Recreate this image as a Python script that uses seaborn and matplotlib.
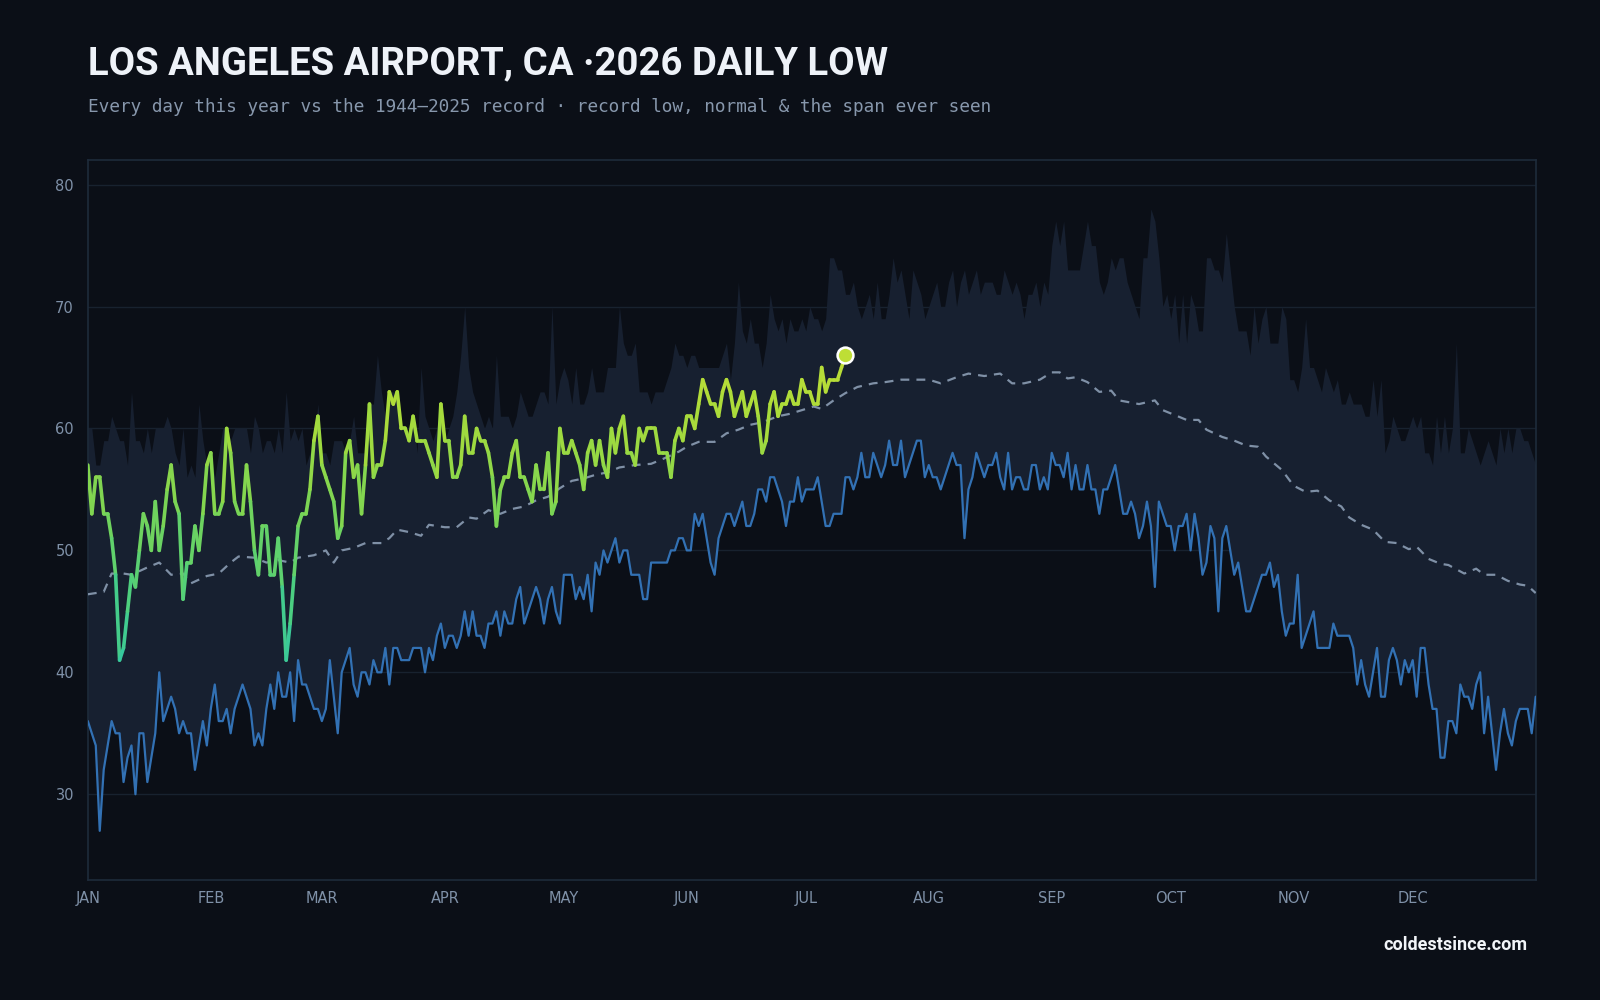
import numpy as np
import pandas as pd
import matplotlib
matplotlib.use("Agg")
import matplotlib.pyplot as plt
from matplotlib.collections import LineCollection
from matplotlib.colors import LinearSegmentedColormap, Normalize
import seaborn as sns

# Record low of the daily low, 1944-2025 (one value per day of year)
record_low = [
    36, 35, 34, 27, 32, 34, 36, 35, 35, 31, 33, 34, 30, 35, 35, 31, 33, 35, 40, 36,
    37, 38, 37, 35, 36, 35, 35, 32, 34, 36, 34, 37, 39, 36, 36, 37, 35, 37, 38, 39,
    38, 37, 34, 35, 34, 37, 39, 37, 40, 38, 38, 40, 36, 41, 39, 39, 38, 37, 37, 36,
    37, 41, 38, 35, 40, 41, 42, 39, 38, 40, 40, 39, 41, 40, 40, 42, 39, 42, 42, 41,
    41, 41, 42, 42, 42, 40, 42, 41, 43, 44, 42, 43, 43, 42, 43, 45, 43, 45, 43, 43,
    42, 44, 44, 45, 43, 45, 44, 44, 46, 47, 44, 45, 46, 47, 46, 44, 46, 47, 45, 44,
    48, 48, 48, 46, 47, 46, 48, 45, 49, 48, 50, 49, 50, 51, 49, 50, 50, 48, 48, 48,
    46, 46, 49, 49, 49, 49, 49, 50, 50, 51, 51, 50, 50, 53, 52, 53, 51, 49, 48, 51,
    52, 53, 53, 52, 53, 54, 52, 52, 53, 55, 55, 54, 56, 56, 55, 54, 52, 54, 54, 56,
    54, 55, 55, 55, 56, 54, 52, 52, 53, 53, 53, 56, 56, 55, 56, 58, 56, 56, 58, 57,
    56, 57, 59, 57, 57, 59, 56, 57, 58, 59, 59, 56, 57, 56, 56, 55, 56, 57, 58, 57,
    57, 51, 55, 56, 58, 57, 56, 57, 57, 58, 56, 55, 58, 55, 56, 56, 55, 55, 57, 57,
    55, 56, 55, 58, 57, 57, 56, 58, 55, 57, 55, 55, 57, 55, 55, 53, 55, 55, 56, 57,
    55, 53, 53, 54, 53, 51, 52, 54, 52, 47, 54, 53, 52, 52, 50, 52, 52, 53, 50, 53,
    51, 48, 49, 52, 51, 45, 51, 52, 50, 48, 49, 47, 45, 45, 46, 47, 48, 48, 49, 47,
    48, 45, 43, 44, 44, 48, 42, 43, 44, 45, 42, 42, 42, 42, 44, 43, 43, 43, 43, 42,
    39, 41, 39, 38, 40, 42, 38, 38, 41, 42, 41, 39, 41, 40, 41, 38, 42, 42, 39, 37,
    37, 33, 33, 36, 36, 35, 39, 38, 38, 37, 39, 40, 35, 38, 35, 32, 35, 37, 35, 34,
    36, 37, 37, 37, 35, 38,
]

# Record high of the daily low (top of the span ever seen)
record_high = [
    60, 60, 57, 57, 59, 59, 61, 60, 59, 59, 57, 63, 59, 59, 58, 60, 58, 60, 60, 60,
    61, 60, 58, 57, 60, 56, 57, 56, 62, 59, 57, 58, 56, 58, 60, 60, 59, 60, 60, 60,
    60, 58, 61, 60, 58, 59, 59, 58, 60, 58, 63, 59, 60, 59, 60, 57, 58, 59, 62, 58,
    58, 57, 59, 59, 59, 58, 59, 61, 58, 58, 58, 62, 62, 66, 63, 61, 63, 63, 63, 60,
    60, 59, 61, 58, 65, 61, 60, 59, 60, 62, 59, 60, 61, 63, 66, 70, 65, 63, 62, 61,
    60, 61, 60, 66, 61, 61, 61, 60, 61, 63, 62, 61, 61, 62, 63, 63, 62, 70, 62, 64,
    65, 64, 62, 65, 62, 62, 63, 65, 63, 63, 63, 65, 65, 65, 70, 67, 66, 66, 67, 63,
    63, 63, 62, 63, 63, 63, 64, 65, 67, 66, 66, 65, 66, 66, 65, 65, 65, 65, 65, 65,
    66, 67, 64, 67, 72, 68, 67, 69, 67, 67, 65, 67, 71, 69, 68, 69, 67, 69, 68, 68,
    69, 68, 70, 69, 69, 68, 69, 74, 74, 73, 73, 71, 71, 72, 70, 69, 70, 71, 69, 72,
    69, 69, 71, 74, 72, 73, 71, 69, 73, 72, 71, 69, 70, 71, 72, 70, 70, 72, 73, 70,
    72, 73, 71, 72, 73, 71, 72, 72, 72, 71, 71, 73, 72, 71, 72, 71, 69, 71, 71, 72,
    70, 72, 71, 75, 77, 75, 77, 73, 73, 73, 73, 75, 77, 75, 75, 72, 71, 72, 74, 73,
    74, 74, 72, 71, 70, 69, 74, 74, 78, 77, 74, 70, 71, 69, 71, 67, 71, 67, 71, 70,
    68, 68, 74, 74, 73, 73, 72, 76, 73, 70, 68, 68, 68, 66, 70, 67, 69, 70, 67, 67,
    67, 70, 69, 64, 64, 63, 65, 69, 65, 65, 64, 63, 65, 64, 63, 64, 62, 62, 63, 62,
    62, 62, 61, 61, 64, 61, 64, 58, 59, 61, 60, 59, 59, 60, 61, 60, 61, 58, 58, 57,
    61, 58, 61, 58, 60, 67, 58, 58, 60, 59, 58, 57, 58, 59, 58, 57, 60, 58, 60, 58,
    60, 60, 59, 59, 58, 57,
]

# normal low, read at irregular days
normal_days = [
    0, 4, 6, 9, 11, 15, 18, 21, 24, 26, 30, 33, 36, 38, 42, 45, 48, 51, 53, 57,
    60, 62, 64, 67, 70, 74, 76, 78, 81, 84, 86, 90, 93, 96, 98, 101, 104, 107, 110, 113,
    116, 119, 122, 125, 128, 131, 134, 138, 142, 145, 149, 151, 154, 158, 161, 164, 167, 170, 174, 177,
    180, 183, 185, 188, 191, 194, 198, 201, 205, 209, 212, 215, 219, 222, 226, 230, 233, 236, 240, 243,
    245, 247, 249, 252, 255, 258, 260, 265, 269, 271, 274, 277, 280, 282, 286, 289, 292, 295, 297, 301,
    304, 307, 310, 313, 316, 318, 321, 324, 327, 330, 333, 335, 338, 341, 343, 347, 350, 352, 355, 358,
    361, 363, 365,
]
normal_vals = [
    46.4, 46.6, 48.1, 48.1, 48.0, 48.6, 49.0, 48.0, 48.1, 47.3, 47.9, 48.1, 49.0, 49.5, 49.4, 49.0, 49.2, 49.0, 49.4, 49.6,
    50.0, 49.0, 50.0, 50.2, 50.6, 50.6, 51.0, 51.7, 51.5, 51.2, 52.1, 51.9, 51.9, 52.7, 52.6, 53.3, 53.0, 53.4, 53.6, 54.1,
    54.4, 55.1, 55.7, 55.9, 56.2, 56.4, 56.8, 57.0, 57.1, 57.5, 58.1, 58.5, 58.9, 58.9, 59.6, 59.9, 60.3, 60.5, 61.0, 61.2,
    61.5, 61.8, 61.6, 62.3, 62.9, 63.4, 63.7, 63.8, 64.0, 64.0, 64.0, 63.7, 64.2, 64.5, 64.3, 64.5, 63.7, 63.7, 64.0, 64.6,
    64.6, 64.1, 64.2, 63.8, 63.0, 63.1, 62.3, 62.0, 62.3, 61.5, 61.1, 60.7, 60.7, 59.9, 59.3, 59.0, 58.6, 58.5, 57.7, 56.6,
    55.3, 54.8, 54.9, 54.1, 53.6, 52.7, 52.1, 51.7, 50.7, 50.6, 50.1, 50.3, 49.3, 48.9, 48.8, 48.1, 48.5, 48.0, 48.0, 47.5,
    47.2, 47.1, 46.5,
]

# 2026 daily lows so far (Jan 1 - Jul 11)
low_2026 = [
    57, 53, 56, 56, 53, 53, 51, 48, 41, 42, 45, 48, 47, 50, 53, 52, 50, 54, 50, 52,
    55, 57, 54, 53, 46, 49, 49, 52, 50, 53, 57, 58, 53, 53, 54, 60, 58, 54, 53, 53,
    57, 54, 50, 48, 52, 52, 48, 48, 51, 47, 41, 44, 48, 52, 53, 53, 55, 59, 61, 57,
    56, 55, 54, 51, 52, 58, 59, 56, 57, 53, 57, 62, 56, 57, 57, 59, 63, 62, 63, 60,
    60, 59, 61, 59, 59, 59, 58, 57, 56, 62, 59, 59, 56, 56, 57, 61, 58, 58, 60, 59,
    59, 58, 56, 52, 55, 56, 56, 58, 59, 56, 56, 55, 54, 57, 55, 55, 58, 53, 54, 60,
    58, 58, 59, 58, 57, 55, 58, 59, 57, 59, 57, 56, 60, 58, 60, 61, 58, 58, 57, 60,
    59, 60, 60, 60, 58, 58, 58, 56, 59, 60, 59, 61, 61, 60, 62, 64, 63, 62, 62, 61,
    63, 64, 63, 61, 62, 63, 61, 62, 63, 61, 58, 59, 62, 63, 61, 62, 62, 63, 62, 62,
    64, 63, 63, 62, 62, 65, 63, 64, 64, 64, 65, 66,
]

month_starts = [0, 31, 59, 90, 120, 151, 181, 212, 243, 273, 304, 334]
month_labels = ["JAN", "FEB", "MAR", "APR", "MAY", "JUN",
                "JUL", "AUG", "SEP", "OCT", "NOV", "DEC"]
y_ticks = [30, 40, 50, 60, 70, 80]

BG = "#0b0f17"
FILL = "#172030"
GRID = "#18222f"
SPINE = "#1e2b3b"
TICK = "#7f91a8"
BLUE = "#3271b4"
NORMAL = "#7f90a6"

days = np.arange(len(record_low))
rec = pd.DataFrame({"day": days, "record_low": record_low, "record_high": record_high})
norm_df = pd.DataFrame({"day": normal_days, "normal": normal_vals})
yr = pd.DataFrame({"day": np.arange(len(low_2026)), "low": low_2026})

sns.set_theme(style="dark")
plt.rcParams["font.family"] = ["DejaVu Sans"]

fig = plt.figure(figsize=(16, 10), dpi=100)
fig.patch.set_facecolor(BG)
ax = fig.add_axes([0.0549, 0.1204, 0.9049, 0.7194])
ax.set_facecolor(BG)

# span ever seen
ax.fill_between(rec["day"], rec["record_low"], rec["record_high"],
                color=FILL, lw=0, zorder=1)

# record low
sns.lineplot(data=rec, x="day", y="record_low", color=BLUE, lw=1.6,
             ax=ax, zorder=3)

# normal
sns.lineplot(data=norm_df, x="day", y="normal", color=NORMAL, lw=1.6,
             linestyle=(0, (4, 3.2)), ax=ax, zorder=3)

# 2026 line, coloured by value
cmap = LinearSegmentedColormap.from_list(
    "lows", ["#2fc6a6", "#4fcf7c", "#79d455", "#a6db3c", "#c2de34"])
pts = yr[["day", "low"]].to_numpy(dtype=float)
segs = np.stack([pts[:-1], pts[1:]], axis=1)
lc = LineCollection(segs, cmap=cmap, norm=Normalize(40, 67), lw=2.6,
                    capstyle="round", joinstyle="round", zorder=4)
lc.set_array((pts[:-1, 1] + pts[1:, 1]) / 2)
ax.add_collection(lc)

last = yr.iloc[-1]
ax.scatter([last["day"]], [last["low"]], s=130, color=cmap(Normalize(40, 67)(last["low"])),
           edgecolor="white", linewidth=1.8, zorder=5)

ax.set_xlim(0, 365)
ax.set_ylim(23, 82)
ax.set_xticks(month_starts)
ax.set_xticklabels(month_labels)
ax.set_yticks(y_ticks)
ax.set_xlabel("")
ax.set_ylabel("")
ax.grid(False)
for y in y_ticks:
    ax.axhline(y, color=GRID, lw=1, zorder=0.5)
for s in ax.spines.values():
    s.set_visible(True)
    s.set_color(SPINE)
    s.set_linewidth(1.2)
ax.tick_params(axis="both", colors=TICK, labelsize=10.5, length=6, width=1,
               color=SPINE, pad=4)
ax.tick_params(axis="x", pad=2.5)

fig.text(0.0549, 0.9255, "LOS ANGELES AIRPORT, CA \u00b72026 DAILY LOW",
         family=["Roboto", "DejaVu Sans"], fontweight="bold", fontsize=27.5,
         color="#eef2f8", va="baseline", ha="left")
fig.text(0.0549, 0.888,
         "Every day this year vs the 1944\u20132025 record \u00b7 record low, normal & the span ever seen",
         family=["DejaVu Sans Mono"], fontsize=12.8, color="#8797ac",
         va="baseline", ha="left")
fig.text(0.9548, 0.0505, "coldestsince.com", family=["Roboto", "DejaVu Sans"],
         fontweight="bold", fontsize=13, color="#f2f5f9", va="baseline", ha="right")

fig.savefig("out.png", dpi=100, facecolor=BG)
